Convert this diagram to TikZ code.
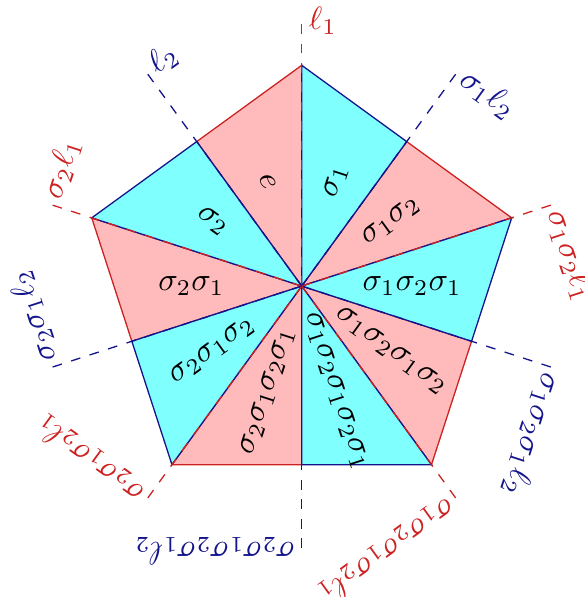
\documentclass[tikz,border=0pt]{standalone}
\usepackage{amsmath, amssymb}
\usepackage{tikz}
\usetikzlibrary{calc}
\usepackage{xcolor}
\definecolor{mirrorred}{HTML}{CC2222}
\definecolor{mirrorblue}{HTML}{14148C}
\definecolor{lightpink}{HTML}{FFBBBB}
\definecolor{lightcyan}{HTML}{80FFFF}
\tikzset{
  pinktile/.style={fill=lightpink, draw=mirrorred},
  cyantile/.style={fill=lightcyan, draw=mirrorblue},
  redmirror/.style={draw=mirrorred, dashed},
  bluemirror/.style={draw=mirrorblue, dashed},
  mirrorlabel/.style={anchor=west, inner sep=2pt},
}

\begin{document}
\begin{tikzpicture}

\useasboundingbox (-3.28,-3.38) rectangle (3.07,3.11);

% Centre, vertices and edge midpoints
\coordinate (O) at (0,0);
\coordinate (v1) at (90:2.4);
\coordinate (v2) at (18:2.4);
\coordinate (v3) at (-54:2.4);
\coordinate (v4) at (-126:2.4);
\coordinate (v5) at (162:2.4);
\coordinate (m1) at ($(v1)!0.5!(v2)$);
\coordinate (m2) at ($(v2)!0.5!(v3)$);
\coordinate (m3) at ($(v3)!0.5!(v4)$);
\coordinate (m4) at ($(v4)!0.5!(v5)$);
\coordinate (m5) at ($(v5)!0.5!(v1)$);

% Pink chambers
\draw[pinktile] (O) -- (m1) -- (v2) -- cycle;
\draw[pinktile] (O) -- (m2) -- (v3) -- cycle;
\draw[pinktile] (O) -- (m3) -- (v4) -- cycle;
\draw[pinktile] (O) -- (m4) -- (v5) -- cycle;
\draw[pinktile] (O) -- (m5) -- (v1) -- cycle;

% Cyan chambers
\draw[cyantile] (O) -- (v1) -- (m1) -- cycle;
\draw[cyantile] (O) -- (v2) -- (m2) -- cycle;
\draw[cyantile] (O) -- (v3) -- (m3) -- cycle;
\draw[cyantile] (O) -- (v4) -- (m4) -- cycle;
\draw[cyantile] (O) -- (v5) -- (m5) -- cycle;

% Ends of the mirror half-lines
\coordinate (t1) at (90:2.88);
\coordinate (t2) at (54:2.88);
\coordinate (t3) at (18:2.88);
\coordinate (t4) at (-18:2.88);
\coordinate (t5) at (-54:2.88);
\coordinate (t6) at (-90:2.88);
\coordinate (t7) at (-126:2.88);
\coordinate (t8) at (-162:2.88);
\coordinate (t9) at (162:2.88);
\coordinate (t10) at (126:2.88);

% Mirrors
\draw[redmirror] (O) -- (t1);
\draw[bluemirror] (O) -- (t2);
\draw[redmirror] (O) -- (t3);
\draw[bluemirror] (O) -- (t4);
\draw[redmirror] (O) -- (t5);
\draw[bluemirror] (O) -- (t6);
\draw[redmirror] (O) -- (t7);
\draw[bluemirror] (O) -- (t8);
\draw[redmirror] (O) -- (t9);
\draw[bluemirror] (O) -- (t10);

% Mirror labels
\node[mirrorlabel, text=mirrorred, rotate=0] (l1) at (t1) {$\ell_1$};
\node[mirrorlabel, text=mirrorblue, rotate=-36] (l2) at (t2) {$\sigma_1\ell_2$};
\node[mirrorlabel, text=mirrorred, rotate=-72] (l3) at (t3) {$\sigma_1\sigma_2\ell_1$};
\node[mirrorlabel, text=mirrorblue, rotate=-108] (l4) at (t4) {$\sigma_1\sigma_2\sigma_1\ell_2$};
\node[mirrorlabel, text=mirrorred, rotate=-144] (l5) at (t5) {$\sigma_1\sigma_2\sigma_1\sigma_2\ell_1$};
\node[mirrorlabel, text=mirrorblue, rotate=180] (l6) at (t6) {$\sigma_2\sigma_1\sigma_2\sigma_1\ell_2$};
\node[mirrorlabel, text=mirrorred, rotate=144] (l7) at (t7) {$\sigma_2\sigma_1\sigma_2\ell_1$};
\node[mirrorlabel, text=mirrorblue, rotate=108] (l8) at (t8) {$\sigma_2\sigma_1\ell_2$};
\node[mirrorlabel, text=mirrorred, rotate=72] (l9) at (t9) {$\sigma_2\ell_1$};
\node[mirrorlabel, text=mirrorblue, rotate=36] (l10) at (t10) {$\ell_2$};

% Chamber labels
\node[rotate=72] (c1) at (72:1.2) {$\sigma_1$};
\node[rotate=36] (c2) at (36:1.2) {$\sigma_1\sigma_2$};
\node[rotate=0] (c3) at (0:1.2) {$\sigma_1\sigma_2\sigma_1$};
\node[rotate=-36] (c4) at (-36:1.2) {$\sigma_1\sigma_2\sigma_1\sigma_2$};
\node[rotate=-72] (c5) at (-72:1.2) {$\sigma_1\sigma_2\sigma_1\sigma_2\sigma_1$};
\node[rotate=72] (c6) at (-108:1.2) {$\sigma_2\sigma_1\sigma_2\sigma_1$};
\node[rotate=36] (c7) at (-144:1.2) {$\sigma_2\sigma_1\sigma_2$};
\node[rotate=0] (c8) at (180:1.2) {$\sigma_2\sigma_1$};
\node[rotate=-36] (c9) at (144:1.2) {$\sigma_2$};
\node[rotate=-72] (c10) at (108:1.2) {$e$};

\end{tikzpicture}
\end{document}
